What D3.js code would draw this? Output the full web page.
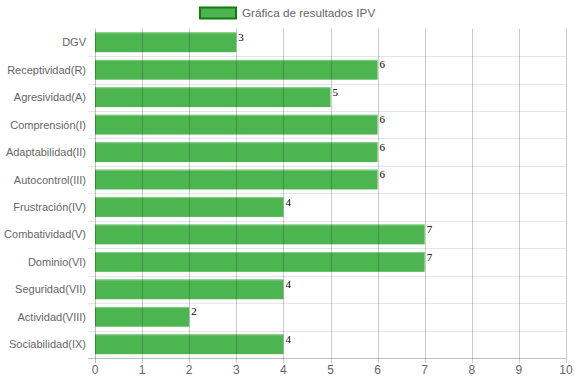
<!DOCTYPE html>
<html><head><meta charset="utf-8">
<script src="https://cdn.jsdelivr.net/npm/d3@7"></script>
<style>body{margin:0;background:#fff;}svg{display:block;} .t{font-family:"Liberation Sans",Arial,Helvetica,sans-serif;} .v{font-family:"Liberation Serif","Times New Roman",serif;}</style>
</head><body>
<svg id="c" width="574" height="383"></svg>
<script>
const categories = ["DGV","Receptividad(R)","Agresividad(A)","Comprensión(I)","Adaptabilidad(II)","Autocontrol(III)","Frustración(IV)","Combatividad(V)","Dominio(VI)","Seguridad(VII)","Actividad(VIII)","Sociabilidad(IX)"];
const values = [3,6,5,6,6,6,4,7,7,4,2,4];
const xTicks = [0,1,2,3,4,5,6,7,8,9,10];
const seriesName = "Gráfica de resultados IPV";

(function(){
const svg = d3.select("#c");
const pLeft = 95, pRight = 566, pTop = 28.6, pBottom = 358;
const x = d3.scaleLinear().domain([0,10]).range([pLeft,pRight]);
const y = d3.scaleBand().domain(categories).range([pTop,pBottom]);

const gH = svg.append("g");
categories.forEach((c,i)=>{
  const yy = Math.round(y(c)) + 0.5;
  if (i>0) gH.append("line").attr("x1",pLeft-7).attr("x2",pRight).attr("y1",yy).attr("y2",yy)
    .attr("stroke","#e6e6e6").attr("stroke-width",1);
});

const barH = y.bandwidth()*0.72;
svg.append("g").selectAll("rect").data(values).join("rect")
  .attr("x", x(0))
  .attr("y",(d,i)=> y(categories[i]) + (y.bandwidth()-barH)/2)
  .attr("width", d=> x(d)-x(0))
  .attr("height", barH)
  .attr("fill","#4db54f");
svg.append("g").selectAll("line").data(values).join("line")
  .attr("x1", x(0)).attr("x2", d=>x(d))
  .attr("y1",(d,i)=> y(categories[i]) + (y.bandwidth()-barH)/2 + 0.5)
  .attr("y2",(d,i)=> y(categories[i]) + (y.bandwidth()-barH)/2 + 0.5)
  .attr("stroke","#86cf88").attr("stroke-width",1);

const gV = svg.append("g");
xTicks.forEach(t=>{
  const xx = Math.round(x(t)) + 0.5;
  gV.append("line").attr("x1",xx).attr("x2",xx).attr("y1",pTop).attr("y2",pBottom+5)
    .attr("stroke", t===0 ? "rgba(0,0,0,0.25)" : "rgba(0,0,0,0.2)").attr("stroke-width",1);
});
svg.append("line").attr("x1",pLeft-7).attr("x2",pRight).attr("y1",pBottom+0.5).attr("y2",pBottom+0.5)
  .attr("stroke","rgba(0,0,0,0.25)");
svg.append("g").selectAll("text").data(xTicks).join("text").attr("class","t")
  .attr("x", d=>x(d)).attr("y", pBottom+16)
  .attr("text-anchor","middle").attr("font-size",12).attr("fill","#666")
  .text(d=>d);
svg.append("g").selectAll("text").data(categories).join("text").attr("class","t")
  .attr("x", pLeft-9).attr("y", d=> y(d)+y.bandwidth()/2+4)
  .attr("text-anchor","end").attr("font-size",11).attr("fill","#666")
  .text(d=>d);
svg.append("g").selectAll("text").data(values).join("text").attr("class","v")
  .attr("x", d=> x(d)+2).attr("y",(d,i)=> y(categories[i]) + (y.bandwidth()-barH)/2 + 8.5)
  .attr("font-size",11).attr("fill","#000")
  .text(d=>d);

svg.append("rect").attr("x",200).attr("y",7.5).attr("width",36).attr("height",11)
  .attr("fill","#4db54f").attr("stroke","#0f7d0f").attr("stroke-width",2);
svg.append("text").attr("class","t").attr("x",242).attr("y",17).attr("font-size",11.7).attr("fill","#666")
  .text(seriesName);
})();
</script>
</body></html>
